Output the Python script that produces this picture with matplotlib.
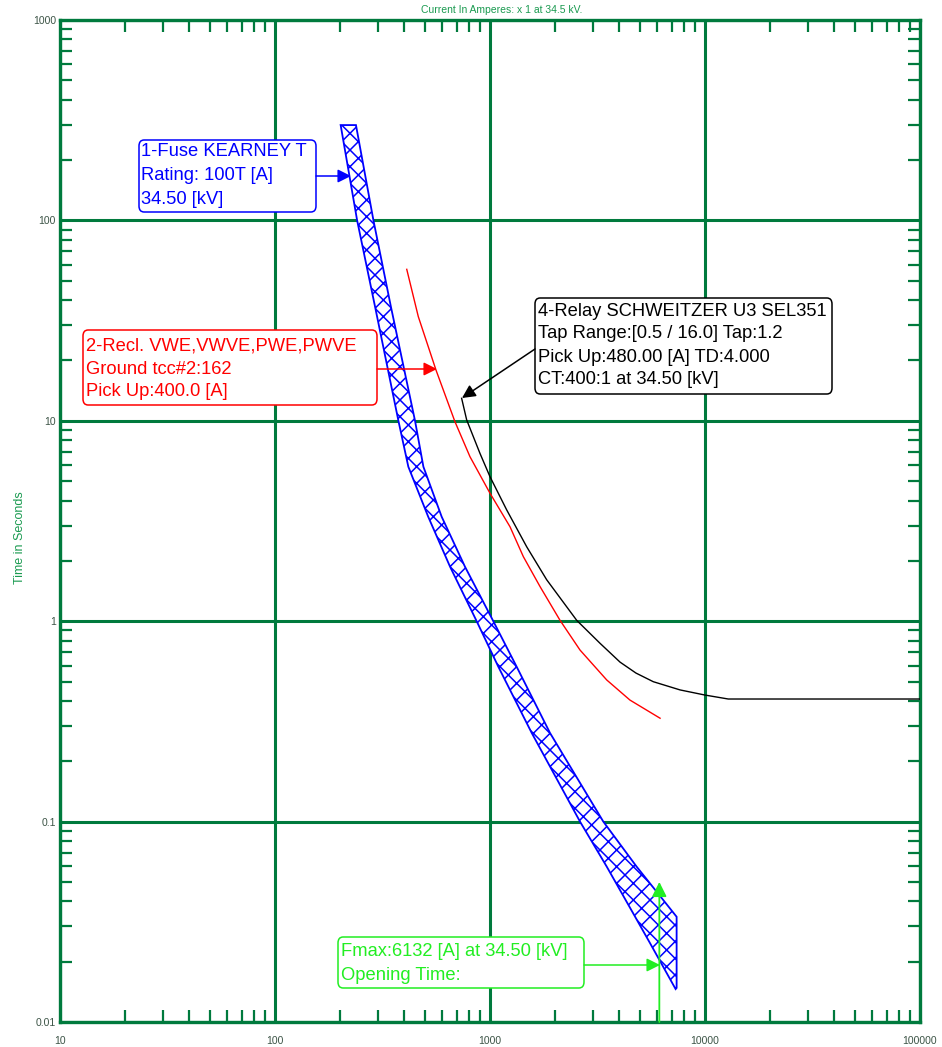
import matplotlib
matplotlib.use("Agg")
import matplotlib.pyplot as plt
from matplotlib import font_manager
from matplotlib.ticker import LogLocator, NullFormatter, FixedLocator
from matplotlib.patches import FancyBboxPatch

# ---------------- data ----------------
fuse_mm_current = [202, 241, 292, 375, 417, 516, 652, 867, 1093, 1563, 2622, 3491, 4624, 5544, 7300]
fuse_mm_time = [299, 100, 37.1, 10, 5.9, 3.32, 1.87, 1.0, 0.593, 0.277, 0.1, 0.0596, 0.035, 0.0248, 0.0146]
fuse_tc_current = [238, 287, 346, 448, 490, 596, 765, 1036, 1330, 1901, 3365, 4808, 7379, 7379]
fuse_tc_time = [299, 100, 37.1, 10, 5.9, 3.32, 1.87, 1.0, 0.593, 0.277, 0.1, 0.0596, 0.0335, 0.0148]

recl_current = [410, 464, 561, 687, 807, 1000, 1239, 1429, 1708, 2117, 2622, 3491, 4477, 6180]
recl_time = [57.0, 33.1, 17.9, 9.9, 6.62, 4.35, 2.96, 2.10, 1.49, 1.01, 0.718, 0.509, 0.404, 0.328]

relay_current = [738, 779, 898, 1000, 1196, 1482, 1835, 2531, 3248, 4025, 4775, 5747, 7657, 10000, 12830, 100000]
relay_time = [12.95, 10.1, 6.88, 5.26, 3.59, 2.35, 1.61, 1.01, 0.776, 0.625, 0.551, 0.499, 0.454, 0.428, 0.409, 0.409]

fmax_current = 6132

x_ticks = [10, 100, 1000, 10000, 100000]
x_tick_labels = ["10", "100", "1000", "10000", "100000"]
y_ticks = [0.01, 0.1, 1, 10, 100, 1000]
y_tick_labels = ["0.01", "0.1", "1", "10", "100", "1000"]

fuse_label = ["1-Fuse KEARNEY T", "Rating: 100T [A]", "34.50 [kV]"]
recl_label = ["2-Recl. VWE,VWVE,PWE,PWVE", "Ground tcc#2:162", "Pick Up:400.0 [A]"]
relay_label = ["4-Relay SCHWEITZER U3 SEL351", "Tap Range:[0.5 / 16.0] Tap:1.2",
               "Pick Up:480.00 [A] TD:4.000", "CT:400:1 at 34.50 [kV]"]
fmax_label = ["Fmax:6132 [A] at 34.50 [kV]", "Opening Time:"]

title_text = "Current In Amperes: x 1 at 34.5 kV."
ylabel_text = "Time in Seconds"

# ---------------- style ----------------
names = {f.name for f in font_manager.fontManager.ttflist}
NARROW = "Liberation Sans Narrow" if "Liberation Sans Narrow" in names else "Liberation Sans"
narrow_size = 9 if NARROW == "Liberation Sans Narrow" else 7.5
MAIN = ["Liberation Sans", "DejaVu Sans"]

GRID = "#007a3d"
TICKLBL = "#3c5446"
BRIGHT = "#22ee22"
plt.rcParams["hatch.linewidth"] = 1.1
plt.rcParams["hatch.color"] = "#0000ff"

W, H = 942, 1047
AX_L, AX_R, AX_T, AX_B = 60, 920, 20, 1022

fig = plt.figure(figsize=(W / 100, H / 100), dpi=100)
ax = fig.add_axes([AX_L / W, 1 - AX_B / H, (AX_R - AX_L) / W, (AX_B - AX_T) / H])
ax.set_xscale("log")
ax.set_yscale("log")
ax.set_xlim(10, 100000)
ax.set_ylim(0.01, 1000)


def P(x, y):
    return ((x - AX_L) / (AX_R - AX_L), (AX_B - y) / (AX_B - AX_T))


ax.xaxis.set_major_locator(FixedLocator(x_ticks))
ax.yaxis.set_major_locator(FixedLocator(y_ticks))
ax.set_xticklabels(x_tick_labels, family=[NARROW, "DejaVu Sans"], fontsize=narrow_size, color=TICKLBL)
ax.set_yticklabels(y_tick_labels, family=[NARROW, "DejaVu Sans"], fontsize=narrow_size, color=TICKLBL)
ax.xaxis.set_minor_locator(LogLocator(base=10, subs=range(2, 10), numticks=20))
ax.yaxis.set_minor_locator(LogLocator(base=10, subs=range(2, 10), numticks=20))
ax.xaxis.set_minor_formatter(NullFormatter())
ax.yaxis.set_minor_formatter(NullFormatter())
ax.tick_params(which="major", length=0, pad=10)
ax.tick_params(axis="y", which="major", pad=3)
ax.tick_params(which="minor", direction="in", length=8.5, width=1.6, color=GRID,
               top=True, right=True, bottom=True, left=True)
ax.grid(which="major", color=GRID, lw=2.2)
ax.set_axisbelow(True)
for s in ax.spines.values():
    s.set_color(GRID)
    s.set_linewidth(2.4)

# ---------------- curves ----------------
poly_x = list(fuse_mm_current) + list(fuse_tc_current[::-1])
poly_y = list(fuse_mm_time) + list(fuse_tc_time[::-1])
ax.fill(poly_x, poly_y, facecolor="white", edgecolor="#0000ff", hatch="xx", lw=1.3, zorder=3)

ax.plot(recl_current, recl_time, color="#ff0000", lw=1.0, zorder=4)
ax.plot(relay_current, relay_time, color="black", lw=1.0, zorder=4)

# Fmax vertical marker
ax.annotate("", xy=(fmax_current, 0.05), xytext=(fmax_current, 0.01),
            arrowprops=dict(arrowstyle="-|>", color=BRIGHT, lw=1.3, mutation_scale=22,
                            shrinkA=0, shrinkB=0), zorder=5)


# ---------------- annotation boxes ----------------
def label_box(x0, y0, x1, y1, lines, color, line_y, text_x, arrow_from, arrow_to):
    a0 = P(x0, y1)
    a1 = P(x1, y0)
    box = FancyBboxPatch(a0, a1[0] - a0[0], a1[1] - a0[1],
                         boxstyle="round,pad=0,rounding_size=0.006",
                         transform=ax.transAxes, facecolor="white", edgecolor=color,
                         lw=1.1, zorder=6)
    ax.add_patch(box)
    for ln, yy in zip(lines, line_y):
        ax.text(*P(text_x, yy), ln, transform=ax.transAxes, ha="left", va="center",
                color=color, fontsize=13.2, family=MAIN, zorder=7)
    ax.annotate("", xy=P(*arrow_to), xytext=P(*arrow_from), xycoords="axes fraction",
                textcoords="axes fraction",
                arrowprops=dict(arrowstyle="-|>", color=color, lw=1.1, mutation_scale=20,
                                shrinkA=0, shrinkB=0), zorder=7)


label_box(139, 140, 316, 212, fuse_label, "#0000ff", [152, 176, 200], 141, (316, 176), (351, 176))
label_box(83, 330, 377, 405, recl_label, "#ff0000", [346, 369, 392], 86, (377, 369), (437, 369))
label_box(535, 298, 832, 394, relay_label, "black", [311, 334, 357, 380], 538, (535, 349), (462, 398))
label_box(338, 937, 584, 988, fmax_label, BRIGHT, [951, 975], 341, (584, 965), (660, 965))

# ---------------- titles ----------------
fig.text(502 / W, 1 - 10 / H, title_text, ha="center", va="center", color="#1a9a50",
         fontsize=narrow_size, family=[NARROW, "DejaVu Sans"])
fig.text(20 / W, 1 - 538 / H, ylabel_text, ha="center", va="center", rotation=90,
         color="#1a9a50", fontsize=9, family=MAIN)

fig.savefig("out.png", dpi=100)
